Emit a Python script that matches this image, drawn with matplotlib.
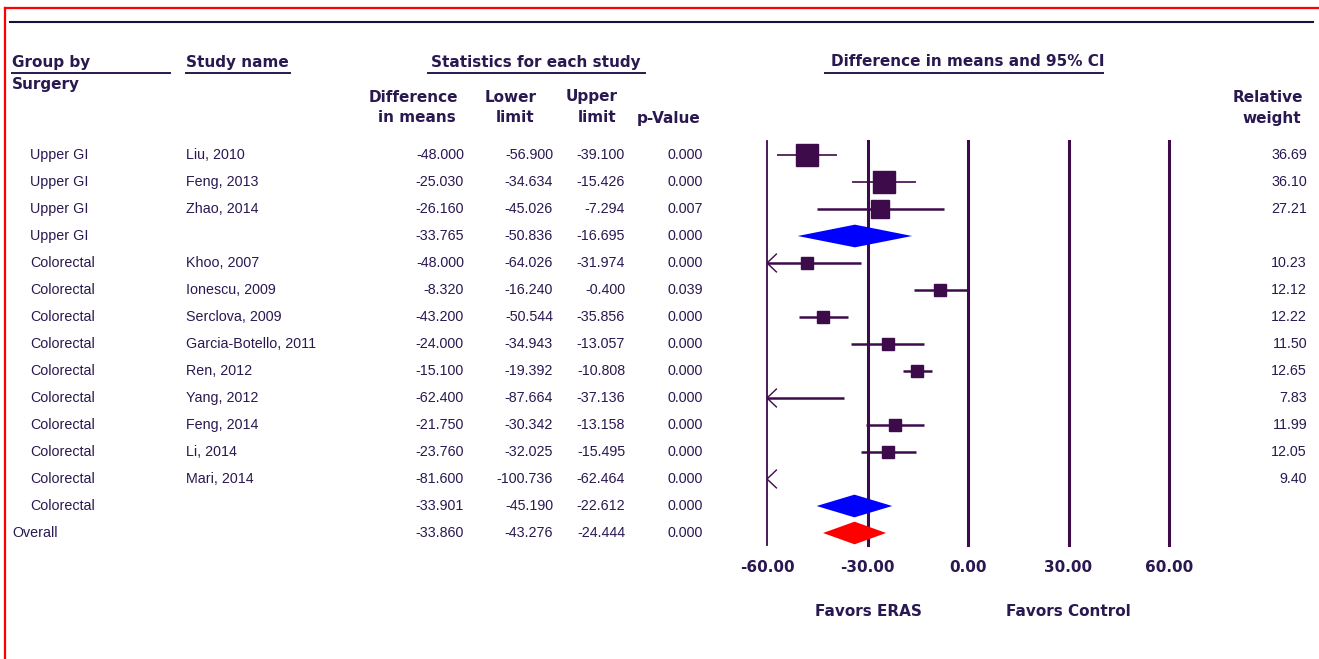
import numpy as np
import matplotlib
matplotlib.use("Agg")
import matplotlib.pyplot as plt
from matplotlib.lines import Line2D
from matplotlib.patches import Polygon

groups = ["Upper GI", "Upper GI", "Upper GI", "Upper GI",
          "Colorectal", "Colorectal", "Colorectal", "Colorectal", "Colorectal",
          "Colorectal", "Colorectal", "Colorectal", "Colorectal", "Colorectal",
          "Overall"]
studies = ["Liu, 2010", "Feng, 2013", "Zhao, 2014", "",
           "Khoo, 2007", "Ionescu, 2009", "Serclova, 2009", "Garcia-Botello, 2011",
           "Ren, 2012", "Yang, 2012", "Feng, 2014", "Li, 2014", "Mari, 2014", "", ""]
diff = [-48.000, -25.030, -26.160, -33.765, -48.000, -8.320, -43.200, -24.000,
        -15.100, -62.400, -21.750, -23.760, -81.600, -33.901, -33.860]
lower = [-56.900, -34.634, -45.026, -50.836, -64.026, -16.240, -50.544, -34.943,
         -19.392, -87.664, -30.342, -32.025, -100.736, -45.190, -43.276]
upper = [-39.100, -15.426, -7.294, -16.695, -31.974, -0.400, -35.856, -13.057,
         -10.808, -37.136, -13.158, -15.495, -62.464, -22.612, -24.444]
pvals = [0.000, 0.000, 0.007, 0.000, 0.000, 0.039, 0.000, 0.000,
         0.000, 0.000, 0.000, 0.000, 0.000, 0.000, 0.000]
weights = [36.69, 36.10, 27.21, None, 10.23, 12.12, 12.22, 11.50,
           12.65, 7.83, 11.99, 12.05, 9.40, None, None]
summary_rows = [3, 13, 14]
summary_colors = {3: "#0000ff", 13: "#0000ff", 14: "#ff0000"}
xticks = [-60, -30, 0, 30, 60]

W, H = 1319, 659
TXT = "#2a1850"
MARK = "#3d0a4a"

fig = plt.figure(figsize=(W / 100, H / 100), dpi=100)
fig.patch.set_facecolor("white")


def fx(x):
    return x / W


def fy(y):
    return 1 - y / H


def row_y(i):
    return 155 + 27 * i


body = dict(fontsize=10.3, color=TXT, family="Liberation Sans", va="center")
head = dict(fontsize=11, color=TXT, family="DejaVu Sans", fontweight="bold")

# red frame and top rule
fig.add_artist(Line2D([fx(5), fx(W)], [fy(8), fy(8)], color="#ff0000", lw=1.6))
fig.add_artist(Line2D([fx(5), fx(5)], [fy(8), fy(H)], color="#ff0000", lw=1.6))
fig.add_artist(Line2D([fx(10), fx(1313)], [fy(22), fy(22)], color="#1a1040", lw=1.5))

# headers
fig.text(fx(12), fy(62), "Group by", ha="left", va="center", **head)
fig.text(fx(12), fy(84), "Surgery", ha="left", va="center", **head)
fig.text(fx(186), fy(62), "Study name", ha="left", va="center", **head)
fig.text(fx(536), fy(62), "Statistics for each study", ha="center", va="center", **head)
fig.text(fx(968), fy(62), "Difference in means and 95% CI", ha="center", va="center", **head)
for x0, x1 in [(12, 170), (186, 290), (428, 645), (825, 1103)]:
    fig.add_artist(Line2D([fx(x0), fx(x1)], [fy(73), fy(73)], color=TXT, lw=1.4))
fig.text(fx(458), fy(97), "Difference", ha="right", va="center", **head)
fig.text(fx(456), fy(118), "in means", ha="right", va="center", **head)
fig.text(fx(511), fy(97), "Lower", ha="center", va="center", **head)
fig.text(fx(515), fy(118), "limit", ha="center", va="center", **head)
fig.text(fx(592), fy(97), "Upper", ha="center", va="center", **head)
fig.text(fx(597), fy(118), "limit", ha="center", va="center", **head)
fig.text(fx(669), fy(118), "p-Value", ha="center", va="center", **head)
fig.text(fx(1303), fy(97), "Relative", ha="right", va="center", **head)
fig.text(fx(1301), fy(118), "weight", ha="right", va="center", **head)

# table body
for i in range(len(diff)):
    y = fy(row_y(i))
    gx = 12 if groups[i] == "Overall" else 30
    fig.text(fx(gx), y, groups[i], ha="left", **body)
    if studies[i]:
        fig.text(fx(186), y, studies[i], ha="left", **body)
    fig.text(fx(464), y, f"{diff[i]:.3f}", ha="right", **body)
    fig.text(fx(553), y, f"{lower[i]:.3f}", ha="right", **body)
    fig.text(fx(625), y, f"{upper[i]:.3f}", ha="right", **body)
    fig.text(fx(703), y, f"{pvals[i]:.3f}", ha="right", **body)
    if weights[i] is not None:
        fig.text(fx(1307), y, f"{weights[i]:.2f}", ha="right", **body)

# forest plot axes: -60 -> x=767, 60 -> x=1169
ax = fig.add_axes([fx(767), fy(545), fx(1169) - fx(767), (545 - 141) / H])
ax.set_xlim(-60, 60)
ax.set_ylim((545 - 155) / 27, (141 - 155) / 27)
ax.axis("off")

for t in xticks:
    ax.axvline(t, color=MARK, lw=1.3 if t == -60 else 2.2, clip_on=False, zorder=1)
    ax.annotate(f"{t:.2f}", xy=(t, 0), xycoords=("data", "axes fraction"),
                xytext=(0, -22), textcoords="offset pixels",
                ha="center", va="center", **head)

fig.text(fx(868), fy(611), "Favors ERAS", ha="center", va="center", **head)
fig.text(fx(1068), fy(611), "Favors Control", ha="center", va="center", **head)

lo_lim, hi_lim = -60, 60
for i in range(len(diff)):
    if i in summary_rows:
        h = 0.42
        poly = Polygon([[lower[i], i], [diff[i], i - h], [upper[i], i], [diff[i], i + h]],
                       closed=True, facecolor=summary_colors[i], edgecolor="none", zorder=3)
        ax.add_patch(poly)
        continue
    lw = 1.2 if weights[i] > 30 else 1.8
    lo = max(lower[i], lo_lim)
    hi = min(upper[i], hi_lim)
    if hi > lo:
        ax.plot([lo, hi], [i, i], color=MARK, lw=lw, zorder=2, solid_capstyle="butt")
    if lower[i] < lo_lim:
        ax.plot([lo_lim + 2.8, lo_lim, lo_lim + 2.8], [i - 0.33, i, i + 0.33],
                color=MARK, lw=1.0, zorder=2)
    if lo_lim <= diff[i] <= hi_lim:
        side = 3.6 * np.sqrt(weights[i]) * 0.72
        ax.plot(diff[i], i, marker="s", ms=side, color=MARK, mec=MARK, zorder=4)

fig.savefig("out.png", dpi=100, facecolor="white")
